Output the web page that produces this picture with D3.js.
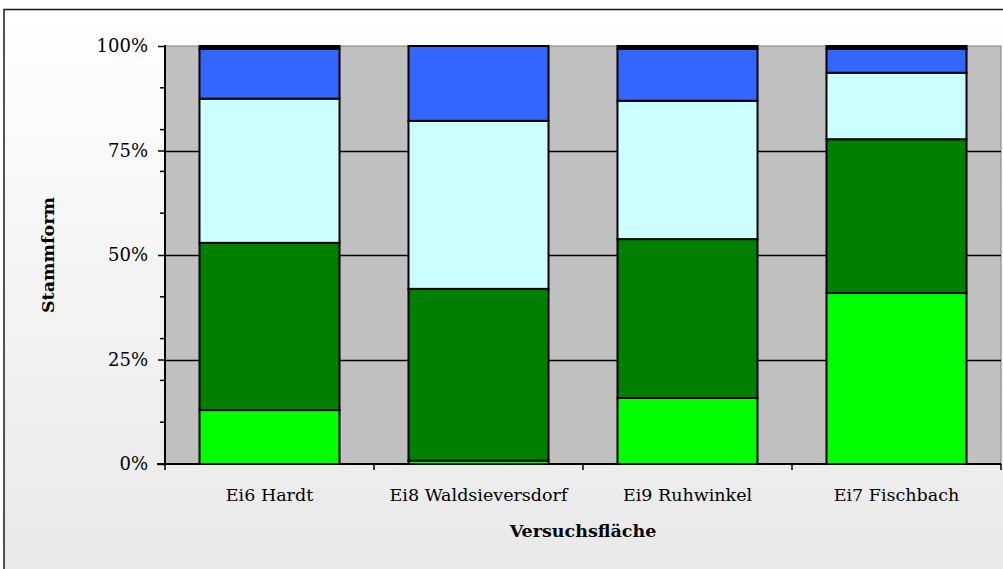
<!DOCTYPE html>
<html>
<head>
<meta charset="utf-8">
<script src="https://cdn.jsdelivr.net/npm/d3@7"></script>
<style>
  body { margin: 0; background: #fff; }
  svg { display: block; }
</style>
</head>
<body>
<svg id="chart" width="1003" height="569"></svg>
<script>
// categories and series shares (percent), bottom to top
var categories = ['Ei6 Hardt', 'Ei8 Waldsieversdorf', 'Ei9 Ruhwinkel', 'Ei7 Fischbach'];
var form1 = [12.9, 0.8, 15.8, 40.9];
var form2 = [40.0, 41.1, 38.0, 36.8];
var form3 = [34.5, 40.2, 33.1, 15.9];
var form4 = [11.9, 17.9, 12.4, 5.7];
var form5 = [0.7, 0.0, 0.7, 0.7];
var yTicks = [0, 25, 50, 75, 100];
var yMinor = [10, 20, 30, 40, 60, 70, 80, 90];

var seriesKeys = ['form1', 'form2', 'form3', 'form4', 'form5'];
var seriesVals = [form1, form2, form3, form4, form5];
var colors = ['#00ff00', '#008000', '#ccffff', '#3366ff', '#000040'];

var rows = categories.map(function(c, i){
  var r = { cat: c };
  seriesKeys.forEach(function(k, j){ r[k] = seriesVals[j][i]; });
  return r;
});

var svg = d3.select('#chart');
var font = '"DejaVu Serif", "Liberation Serif", serif';

// chart background
var defs = svg.append('defs');
var grad = defs.append('linearGradient').attr('id', 'bg')
  .attr('x1', 0).attr('y1', 0).attr('x2', 0).attr('y2', 1);
grad.append('stop').attr('offset', '0%').attr('stop-color', '#ffffff');
grad.append('stop').attr('offset', '100%').attr('stop-color', '#e8e8e8');

svg.append('rect').attr('x', 0).attr('y', 0).attr('width', 1003).attr('height', 569).attr('fill', '#fff');
svg.append('rect').attr('x', 4).attr('y', 9.5).attr('width', 1010).attr('height', 580)
  .attr('fill', 'url(#bg)').attr('stroke', '#1a1a1a').attr('stroke-width', 1.5);

var m = { left: 165, right: 1001, top: 46, bottom: 464 };

var x = d3.scaleBand().domain(categories).range([m.left, m.right])
  .paddingInner(0.33).paddingOuter(0.165);
var y = d3.scaleLinear().domain([0, 100]).range([m.bottom, m.top]);

// plot area
svg.append('rect').attr('x', m.left).attr('y', m.top)
  .attr('width', m.right - m.left).attr('height', m.bottom - m.top)
  .attr('fill', '#c0c0c0').attr('stroke', '#808080').attr('stroke-width', 1);

// gridlines
svg.append('g').selectAll('line').data([25, 50, 75]).enter().append('line')
  .attr('x1', m.left).attr('x2', m.right)
  .attr('y1', function(d){ return Math.round(y(d)) + 0.5; })
  .attr('y2', function(d){ return Math.round(y(d)) + 0.5; })
  .attr('stroke', '#000').attr('stroke-width', 1.5);

// bars
var stack = d3.stack().keys(seriesKeys);
var layers = stack(rows);

svg.append('g').selectAll('g').data(layers).enter().append('g')
  .attr('fill', function(d, i){ return colors[i]; })
  .selectAll('rect').data(function(d){ return d.filter(function(p){ return p[1] - p[0] > 0; }); })
  .enter().append('rect')
  .attr('x', function(d){ return x(d.data.cat); })
  .attr('width', x.bandwidth())
  .attr('y', function(d){ return y(d[1]); })
  .attr('height', function(d){ return y(d[0]) - y(d[1]); })
  .attr('stroke', '#000').attr('stroke-width', 2);

// y axis
var yAxis = svg.append('g').attr('transform', 'translate(' + m.left + ',0)');
yAxis.call(d3.axisLeft(y).tickValues(yTicks).tickSize(7).tickPadding(10)
  .tickFormat(function(d){ return d + '%'; }));
yAxis.selectAll('line').attr('stroke', '#000').attr('stroke-width', 1.5);
yAxis.select('.domain').remove();
yAxis.append('line').attr('x1', 0).attr('x2', 0).attr('y1', m.top - 1).attr('y2', m.bottom + 1)
  .attr('stroke', '#000').attr('stroke-width', 2);
yAxis.selectAll('.minor').data(yMinor).enter().append('line')
  .attr('class', 'minor')
  .attr('x1', -5).attr('x2', 0)
  .attr('y1', function(d){ return y(d); }).attr('y2', function(d){ return y(d); })
  .attr('stroke', '#000').attr('stroke-width', 1.5);
yAxis.selectAll('text').attr('font-family', font).attr('font-size', 18).attr('fill', '#000');

// x axis
var xAxis = svg.append('g').attr('transform', 'translate(0,' + m.bottom + ')');
xAxis.call(d3.axisBottom(x).tickSize(0).tickPadding(25));
xAxis.select('.domain').remove();
xAxis.append('line').attr('x1', m.left - 8).attr('x2', m.right)
  .attr('stroke', '#000').attr('stroke-width', 2);
var bounds = categories.map(function(c){ return x(c) - x.step() * x.paddingOuter(); });
bounds.push(m.right);
xAxis.selectAll('.bound').data(bounds).enter().append('line')
  .attr('class', 'bound')
  .attr('x1', function(d){ return d; }).attr('x2', function(d){ return d; })
  .attr('y1', 0).attr('y2', 6)
  .attr('stroke', '#000').attr('stroke-width', 1.5);
xAxis.selectAll('text').attr('font-family', font).attr('font-size', 17.5).attr('fill', '#000');

// axis titles
svg.append('text').attr('x', (m.left + m.right) / 2).attr('y', 537)
  .attr('text-anchor', 'middle').attr('font-family', font).attr('font-size', 17.5)
  .attr('font-weight', 'bold').text('Versuchsfläche');
svg.append('text').attr('transform', 'translate(54,' + ((m.top + m.bottom) / 2) + ') rotate(-90)')
  .attr('text-anchor', 'middle').attr('font-family', font).attr('font-size', 17.5)
  .attr('font-weight', 'bold').text('Stammform');
</script>
</body>
</html>
